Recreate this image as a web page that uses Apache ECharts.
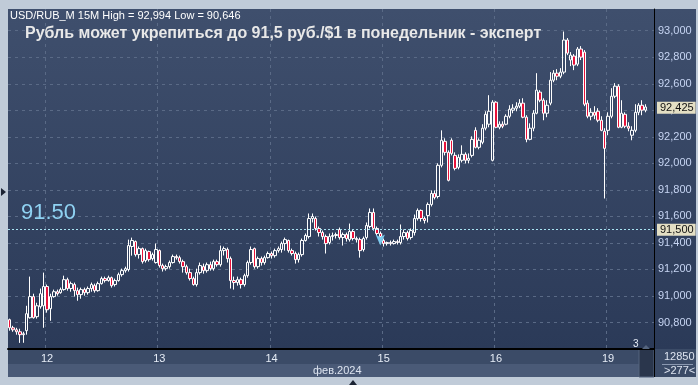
<!DOCTYPE html>
<html><head><meta charset="utf-8">
<script src="https://cdn.jsdelivr.net/npm/echarts@6/dist/echarts.min.js"></script>
<style>html,body{margin:0;padding:0;background:#c0cbd8}#c{width:698px;height:385px}</style>
</head><body><div id="c"></div>
<script>
// ---- data (15-minute candles, [open, close, low, high]) ----
const feb09 = [
[90.821,90.760,90.738,90.829],[90.760,90.745,90.730,90.775],[90.745,90.730,90.708,90.760],
[90.730,90.708,90.646,90.753],[90.708,90.715,90.647,90.730],[90.738,90.866,90.708,90.926],
[90.836,90.995,90.829,91.146],[90.995,90.836,90.829,91.017],[90.844,90.926,90.829,90.949],
[90.919,91.017,90.904,91.056],[90.926,91.071,90.760,91.176]];
const feb12 = [
[91.071,90.896,90.874,91.086],[90.904,90.995,90.813,91.017],[90.995,91.032,90.987,91.048],
[91.032,91.017,91.002,91.048],[91.025,91.048,91.017,91.063],[91.048,91.123,91.040,91.153],
[91.123,91.056,91.040,91.138],[91.056,91.093,91.032,91.108],[91.086,91.040,90.995,91.101],
[91.040,91.010,90.964,91.063],[91.010,91.048,90.979,91.063],[91.048,91.025,91.002,91.063],
[91.025,91.056,91.010,91.071],[91.056,91.086,91.032,91.101],[91.078,91.040,91.025,91.093],
[91.040,91.093,91.032,91.108],[91.093,91.131,91.086,91.146],[91.131,91.116,91.101,91.146],
[91.116,91.138,91.108,91.153],[91.138,91.078,91.063,91.146],[91.086,91.116,91.071,91.131],
[91.116,91.161,91.108,91.176],[91.161,91.191,91.146,91.206],[91.191,91.206,91.176,91.221],
[91.199,91.380,91.184,91.425],[91.373,91.418,91.304,91.440],[91.410,91.312,91.297,91.418],
[91.312,91.357,91.282,91.373],[91.357,91.259,91.244,91.365],[91.267,91.342,91.252,91.357],
[91.335,91.274,91.259,91.342],[91.282,91.312,91.267,91.327],[91.252,91.350,91.244,91.395]];
const feb13 = [
[91.342,91.229,91.214,91.350],[91.229,91.206,91.184,91.244],[91.206,91.221,91.191,91.236],
[91.221,91.252,91.206,91.267],[91.252,91.297,91.244,91.312],[91.297,91.289,91.274,91.312],
[91.289,91.259,91.244,91.304],[91.259,91.221,91.176,91.274],[91.221,91.176,91.161,91.236],
[91.176,91.131,91.116,91.206],[91.131,91.086,91.078,91.146],[91.086,91.176,91.071,91.206],
[91.176,91.229,91.161,91.252],[91.221,91.191,91.168,91.244],[91.191,91.236,91.176,91.252],
[91.236,91.206,91.191,91.259],[91.206,91.259,91.191,91.274],[91.259,91.236,91.221,91.274],
[91.236,91.342,91.221,91.380],[91.342,91.357,91.305,91.373],[91.350,91.282,91.252,91.365],
[91.282,91.116,91.056,91.297],[91.116,91.101,91.048,91.146],[91.101,91.123,91.078,91.146],
[91.123,91.086,91.056,91.138],[91.086,91.153,91.071,91.168],[91.153,91.252,91.138,91.267],
[91.252,91.350,91.236,91.373],[91.357,91.221,91.206,91.365],[91.221,91.282,91.206,91.297],
[91.282,91.252,91.229,91.297],[91.252,91.289,91.236,91.304],[91.289,91.320,91.282,91.335]];
const feb14 = [
[91.320,91.304,91.282,91.335],[91.304,91.342,91.289,91.357],[91.342,91.357,91.327,91.373],
[91.350,91.395,91.327,91.410],[91.395,91.425,91.342,91.440],[91.418,91.342,91.327,91.425],
[91.342,91.320,91.305,91.357],[91.320,91.274,91.244,91.335],[91.274,91.312,91.252,91.327],
[91.312,91.418,91.297,91.433],[91.418,91.456,91.410,91.471],[91.448,91.584,91.433,91.622],
[91.584,91.599,91.554,91.622],[91.584,91.509,91.493,91.599],[91.509,91.478,91.448,91.524],
[91.478,91.448,91.425,91.493],[91.448,91.395,91.320,91.463],[91.403,91.448,91.388,91.471],
[91.448,91.456,91.418,91.478],[91.456,91.463,91.433,91.478],[91.501,91.441,91.425,91.516],
[91.441,91.463,91.380,91.478],[91.463,91.433,91.410,91.478],[91.425,91.486,91.410,91.546],
[91.486,91.433,91.418,91.501],[91.433,91.425,91.403,91.448],[91.425,91.342,91.289,91.440],
[91.350,91.433,91.335,91.448],[91.441,91.531,91.425,91.554],[91.524,91.630,91.509,91.660],
[91.630,91.509,91.493,91.660],[91.509,91.471,91.456,91.524],[91.471,91.448,91.433,91.486]];
const feb15 = [
[91.418,91.395,91.373,91.433],[91.395,91.403,91.380,91.410],[91.403,91.395,91.380,91.418],
[91.395,91.410,91.388,91.425],[91.410,91.403,91.388,91.425],[91.403,91.448,91.388,91.539],
[91.448,91.478,91.425,91.501],[91.478,91.433,91.418,91.493],[91.441,91.493,91.425,91.509],
[91.478,91.584,91.456,91.614],[91.584,91.645,91.569,91.660],[91.645,91.584,91.561,91.652],
[91.584,91.569,91.546,91.599],[91.607,91.690,91.554,91.705],[91.690,91.773,91.675,91.796],
[91.773,91.743,91.728,91.796],[91.750,91.985,91.735,92.000],[91.985,92.174,91.970,92.249],
[92.166,92.083,92.060,92.189],[92.083,91.872,91.864,92.098],[92.174,92.075,92.060,92.189],
[92.060,91.962,91.947,92.083],[91.970,92.045,91.955,92.068],[92.023,92.068,92.007,92.136],
[92.068,92.023,92.000,92.083],[92.023,92.038,92.000,92.075],[92.060,92.181,92.045,92.204],
[92.249,92.121,92.113,92.272],[92.121,92.174,92.106,92.189],[92.159,92.265,92.144,92.295],
[92.265,92.370,92.249,92.393],[92.295,92.393,92.272,92.514],[92.023,92.461,92.015,92.476]];
const feb16 = [
[92.461,92.272,92.265,92.469],[92.272,92.295,92.257,92.317],[92.295,92.280,92.265,92.317],
[92.295,92.355,92.287,92.370],[92.355,92.408,92.340,92.438],[92.401,92.416,92.378,92.446],
[92.416,92.431,92.393,92.461],[92.431,92.454,92.416,92.484],[92.454,92.348,92.340,92.491],
[92.348,92.181,92.159,92.363],[92.181,92.265,92.174,92.302],[92.265,92.378,92.242,92.401],
[92.378,92.552,92.370,92.680],[92.537,92.476,92.461,92.552],[92.476,92.378,92.325,92.491],
[92.378,92.438,92.348,92.476],[92.454,92.627,92.438,92.688],[92.627,92.680,92.612,92.703],
[92.680,92.657,92.627,92.710],[92.657,92.688,92.642,92.718],[92.688,92.930,92.672,92.994],
[92.930,92.831,92.816,92.945],[92.779,92.816,92.733,92.839],[92.809,92.741,92.703,92.824],
[92.748,92.862,92.733,92.877],[92.862,92.801,92.779,92.884],[92.839,92.446,92.431,92.854],
[92.454,92.355,92.340,92.476],[92.355,92.385,92.325,92.416],[92.385,92.363,92.333,92.431],
[92.393,92.325,92.310,92.416],[92.325,92.249,92.242,92.355],[92.242,92.113,91.735,92.265]];
const feb19 = [
[92.249,92.355,92.212,92.385],[92.355,92.506,92.340,92.567],[92.506,92.582,92.491,92.605],
[92.582,92.272,92.265,92.597],[92.272,92.378,92.265,92.476],[92.370,92.280,92.265,92.385],
[92.280,92.265,92.242,92.310],[92.212,92.249,92.174,92.280],[92.249,92.385,92.234,92.446],
[92.385,92.438,92.363,92.454],[92.438,92.401,92.363,92.476],[92.401,92.425,92.385,92.446]];

const dayNames = ['09','12','13','14','15','16','19'];
const dayData  = [feb09, feb12, feb13, feb14, feb15, feb16, feb19];
const dayFirstSlot = [22, 0, 0, 0, 0, 0, 0];
const emptySlotsAtEnd = 2;
const monthLabel = 'фев.2024';
const headerText = 'USD/RUB_M 15M High = 92,994 Low = 90,646';
const titleText = 'Рубль может укрепиться до 91,5 руб./$1 в понедельник - эксперт';
const levelValue = 91.5;
const levelText = '91.50';
const arrowMark = {day: '14', slot: 32, value: 91.38};
const volumeText = '12850';
const counterText = '>277<';
const pageText = '3';

// ---- build categories ----
function slotTime(k){const m=600+k*15;return String(Math.floor(m/60)).padStart(2,'0')+':'+String(m%60).padStart(2,'0');}
const categories = [], candles = [], dayStarts = new Set();
dayData.forEach((arr, d) => {
  arr.forEach((c, j) => {
    const slot = dayFirstSlot[d] + j;
    if (slot === 0) dayStarts.add(categories.length);
    categories.push(dayNames[d] + '.02 ' + slotTime(slot));
    candles.push(c);
  });
});
const lastDay = dayNames[dayNames.length-1];
for (let k=0;k<emptySlotsAtEnd;k++) categories.push(lastDay + '.02 ' + slotTime(feb19.length + k));
const lastClose = feb19[feb19.length-1][1];
const fmt = v => v.toFixed(3).replace('.', ',');
const FONT = '"Liberation Sans", Arial, sans-serif';

const chart = echarts.init(document.getElementById('c'));
chart.setOption({
  animation: false,
  backgroundColor: '#c0cbd8',
  textStyle: {fontFamily: FONT},
  grid: {left: 8, right: 44, top: 9, bottom: 36, show: true, borderWidth: 0,
    backgroundColor: {type:'linear',x:0,y:0,x2:0,y2:1,colorStops:[{offset:0,color:'#3f4f6d'},{offset:1,color:'#2b3a58'}]}},
  xAxis: {
    type: 'category', data: categories, boundaryGap: true,
    axisLine: {show: true, lineStyle: {color: '#000', width: 2}},
    axisTick: {show: false},
    axisLabel: {interval: (i) => dayStarts.has(i), formatter: v => String(parseInt(v.split('.')[0], 10)),
      color: '#e6ecf6', fontSize: 11, margin: 4, fontFamily: FONT},
    splitLine: {show: true, interval: (i) => dayStarts.has(i), lineStyle: {color: '#5a6a86', type: [3,4], width: 1}}
  },
  yAxis: {
    type: 'value', position: 'right', min: 90.6, max: 93.164, interval: 0.2,
    axisLine: {show: true, lineStyle: {color: '#000', width: 1}},
    axisTick: {show: false},
    axisLabel: {formatter: fmt, color: '#c6d4f2', fontSize: 11, margin: 4, showMinLabel: false, showMaxLabel: false, fontFamily: FONT},
    splitLine: {show: true, showMinLine: false, showMaxLine: false, lineStyle: {color: '#5a6a86', type: [3,4], width: 1}}
  },
  series: [{
    type: 'candlestick', data: candles, barWidth: 3,
    itemStyle: {color: 'rgba(0,0,0,0)', color0: '#e8123a', borderColor: '#ffffff', borderColor0: '#ffffff', borderWidth: 1},
    markLine: {
      silent: true, symbol: ['none','none'], animation: false,
      data: [
        {yAxis: levelValue, lineStyle: {color: '#a8e2f2', type: [2,2], width: 1},
          label: {show: true, position: 'end', formatter: fmt(levelValue), backgroundColor: '#e4dfc4', color: '#111', padding: [1,2,0,3], fontSize: 11, distance: 3, fontFamily: FONT}},
        {yAxis: levelValue, lineStyle: {color: 'rgba(0,0,0,0)'},
          label: {show: true, position: 'insideStartTop', formatter: levelText, color: '#8fd2f2', fontSize: 22, distance: [13, 6], fontFamily: FONT}},
        {yAxis: lastClose, lineStyle: {color: 'rgba(0,0,0,0)'},
          label: {show: true, position: 'end', formatter: fmt(lastClose), backgroundColor: '#e4dfc4', color: '#111', padding: [1,2,0,3], fontSize: 11, distance: 3, fontFamily: FONT}}
      ]
    },
    markPoint: {
      silent: true, animation: false,
      data: [{coord: [arrowMark.day + '.02 ' + slotTime(arrowMark.slot), arrowMark.value], symbol: 'arrow', symbolSize: [7, 11], symbolRotate: 180,
        itemStyle: {color: '#7ccbef'}, label: {show: false}}]
    }
  }],
  graphic: [
    {type:'rect', z:-10, shape:{x:654,y:9,width:42,height:340}, style:{fill:{type:'linear',x:0,y:0,x2:0,y2:1,colorStops:[{offset:0,color:'#3f4f6d'},{offset:1,color:'#2b3a58'}]}}},
    {type:'rect', z:-10, shape:{x:8,y:349,width:688,height:15}, style:{fill:'#3b4b67'}},
    {type:'rect', z:-10, shape:{x:8,y:364,width:646,height:13}, style:{fill:'#4a5a77'}},
    {type:'rect', z:-9, shape:{x:655,y:349,width:41,height:28}, style:{fill:'#3b4b67'}},
    {type:'rect', z:-8, shape:{x:639,y:349,width:15,height:28}, style:{fill:'#2a364c', stroke:'#55657f', lineWidth:1}},
    {type:'line', z:50, shape:{x1:654.5,y1:9,x2:654.5,y2:377}, style:{stroke:'#000',lineWidth:1}},
    {type:'line', z:50, shape:{x1:662,y1:364.5,x2:693,y2:364.5}, style:{stroke:'#8a98b0',lineWidth:1}},
    {type:'polygon', z:50, shape:{points:[[642,349],[646,345],[650,349]]}, style:{fill:'#55657f'}},
    {type:'polygon', z:50, shape:{points:[[1,188],[6,192],[1,196]]}, style:{fill:'#1c2434'}},
    {type:'polygon', z:50, shape:{points:[[349,385],[353,380],[357,385]]}, style:{fill:'#1c2434'}},
    {type:'text', z:100, left:10, top:10, style:{text:headerText, fill:'#ffffff', font:'11px ' + FONT}},
    {type:'text', z:100, left:25, top:26, style:{text:titleText, fill:'#e8e8e8', font:'bold 16px ' + FONT}},
    {type:'text', z:100, left:313, top:365, style:{text:monthLabel, fill:'#dde4f0', font:'11px ' + FONT}},
    {type:'text', z:100, left:664, top:351, style:{text:volumeText, fill:'#dde4f0', font:'11px ' + FONT}},
    {type:'text', z:100, left:664, top:365, style:{text:counterText, fill:'#dde4f0', font:'11px ' + FONT}},
    {type:'text', z:100, left:633, top:339, style:{text:pageText, fill:'#e6ecf6', font:'10px ' + FONT}}
  ]
});
</script></body></html>
